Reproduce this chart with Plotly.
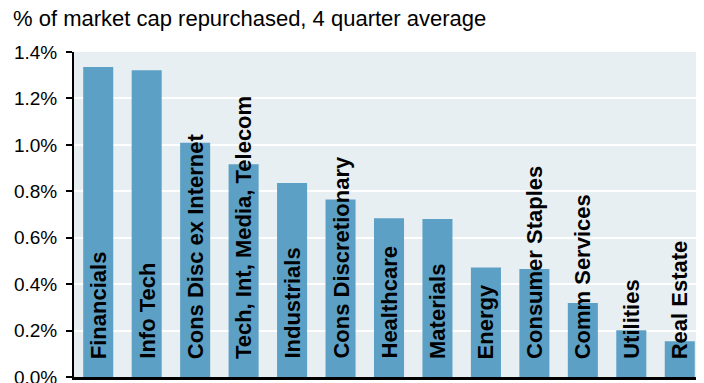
import plotly.graph_objects as go

categories = ["Financials", "Info Tech", "Cons Disc ex Internet", "Tech, Int, Media, Telecom",
              "Industrials", "Cons Discretionary", "Healthcare", "Materials", "Energy",
              "Consumer Staples", "Comm Services", "Utilities", "Real Estate"]
values = [1.335, 1.321, 1.009, 0.916, 0.836, 0.765, 0.684, 0.681, 0.472, 0.465, 0.319, 0.201, 0.154]
y_ticks = [0.0, 0.2, 0.4, 0.6, 0.8, 1.0, 1.2, 1.4]
y_tick_labels = ["0.0%", "0.2%", "0.4%", "0.6%", "0.8%", "1.0%", "1.2%", "1.4%"]
subtitle = "% of market cap repurchased, 4 quarter average"

FONT = "Liberation Sans, Arial, sans-serif"

# page body has an 8px default margin; figure is sized to compensate
W, H = 696, 375

fig = go.Figure()
fig.add_trace(go.Bar(
    x=categories, y=values,
    marker=dict(color="#5DA0C5", line=dict(width=0)),
    hoverinfo="x+y",
))

annotations = []
for c in categories:
    annotations.append(dict(
        x=c, y=0, xref="x", yref="y",
        text="<b>%s</b>" % c, showarrow=False,
        textangle=-90, xanchor="center", yanchor="bottom",
        yshift=16,
        font=dict(family=FONT, size=22, color="black"),
    ))

fig.update_layout(
    width=W, height=H,
    margin=dict(l=66, r=0, t=44, b=6, autoexpand=False),
    paper_bgcolor="white",
    plot_bgcolor="#E8EFF3",
    bargap=0.38,
    showlegend=False,
    font=dict(family=FONT, color="black"),
    title=dict(
        text=subtitle, xref="container", yref="container",
        x=5 / W, xanchor="left", y=1 - 10 / H, yanchor="middle",
        font=dict(family=FONT, size=22, color="black"),
        pad=dict(l=0, r=0, t=0, b=0),
    ),
    annotations=annotations,
    xaxis=dict(
        showticklabels=False, ticks="", showgrid=False,
        showline=True, linecolor="black", linewidth=3,
        fixedrange=True, automargin=False,
    ),
    yaxis=dict(
        range=[0, 1.4], tickvals=y_ticks, ticktext=y_tick_labels,
        showgrid=True, gridcolor="white", gridwidth=2,
        zeroline=False,
        showline=True, linecolor="black", linewidth=2,
        ticks="outside", ticklen=6, tickwidth=2, tickcolor="black",
        ticklabelstandoff=5, ticklabeloverflow="allow",
        tickfont=dict(family=FONT, size=19, color="black"),
        fixedrange=True, automargin=False,
    ),
)

fig.write_html("out.html")
